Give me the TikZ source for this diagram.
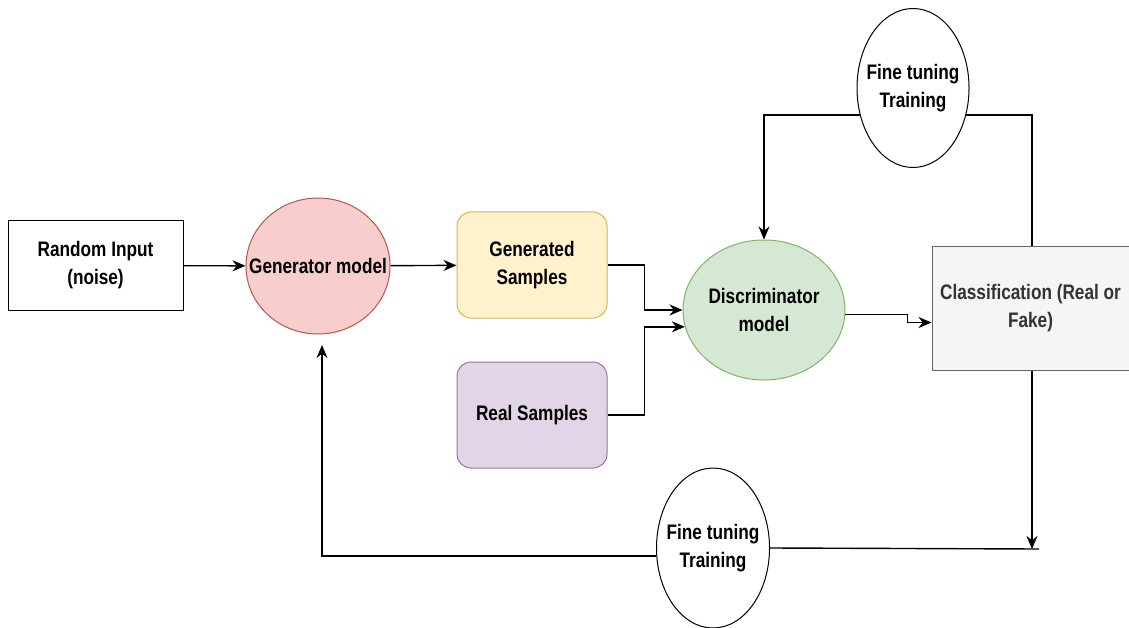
\documentclass[tikz,border=0pt]{standalone}
\usepackage{fontspec}
\setmainfont{Liberation Sans}[FakeStretch=0.82]
\usepackage{tikz}
\usetikzlibrary{shapes.geometric, arrows.meta, positioning, calc}
\definecolor{genred}{HTML}{F8CECC}
\definecolor{genredline}{HTML}{B85450}
\definecolor{sampyellow}{HTML}{FFF2CC}
\definecolor{sampyellowline}{HTML}{D6B656}
\definecolor{realpurple}{HTML}{E1D5E7}
\definecolor{realpurpleline}{HTML}{9673A6}
\definecolor{discgreen}{HTML}{D5E8D4}
\definecolor{discgreenline}{HTML}{82B366}
\definecolor{clsgray}{HTML}{F5F5F5}
\definecolor{clsgrayline}{HTML}{666666}
\definecolor{clstext}{HTML}{333333}

\begin{document}
\begin{tikzpicture}[
  x=1pt, y=-1pt,
  every node/.style={font=\fontsize{21}{28}\selectfont\bfseries, align=center, inner sep=0pt},
  plain/.style={rectangle, draw=black, line width=1pt, fill=white},
  model/.style={ellipse, line width=1pt},
  sample/.style={rectangle, rounded corners=14pt, line width=1pt, minimum width=150pt, minimum height=106pt},
  tuning/.style={ellipse, draw=black, line width=1pt, fill=white, minimum width=112pt, minimum height=159pt,
    label={center:Fine tuning\\Training}},
  arrow/.style={-{Stealth[length=13pt, width=11pt]}, line width=1.4pt},
  link/.style={line width=1.4pt}
]
  \useasboundingbox (0,0) rectangle (1129,628);

  % main row
  \node[plain, minimum width=175pt, minimum height=89pt] (noise) at (95.5,265.5) {Random Input\\(noise)};
  \node[model, draw=genredline, fill=genred, minimum width=144pt, minimum height=136pt,
    label={center:Generator model}] (generator) at (318,266) {};
  \node[sample, draw=sampyellowline, fill=sampyellow] (gensamp) at (532,265) {Generated\\Samples};
  \node[sample, draw=realpurpleline, fill=realpurple] (realsamp) at (532,415) {Real Samples};
  \node[model, draw=discgreenline, fill=discgreen, minimum width=162pt, minimum height=140pt,
    label={center:Discriminator\\model}] (disc) at (764,310) {};
  \node[rectangle, draw=clsgrayline, fill=clsgray, line width=1pt, text=clstext, minimum width=197pt, minimum height=123pt] (cls) at (1030.5,308.5) {Classification (Real or\\Fake)};

  % feedback
  \node[tuning] (tunetop) at (913,88) {};
  \node[tuning, minimum width=113pt, minimum height=160pt] (tunebot) at (713,548) {};
  \coordinate (drop) at (1032,549);
  \coordinate (dropend) at (1039,549);
  \coordinate (genup) at (322,345);

  \draw[arrow] (noise) -- (generator);
  \draw[arrow] (generator) -- (gensamp);
  \draw[arrow] (gensamp.east) -- ++(37,0) |- (disc.west);
  \draw[arrow] (realsamp.east) -- ++(37,0) |- (disc.192);
  \draw[arrow] (disc.-3) -- ++(62,0) |- ($(cls.west)+(0,14)$);

  \draw[link] ($(cls.north)+(1.5,0)$) |- (tunetop.-27);
  \draw[arrow] (tunetop.207) -| (disc.north);

  \draw[arrow] (cls.south -| drop) -- (drop);
  \draw[link] (tunebot.east) -- (dropend);
  \draw[arrow] (tunebot.188) -| (genup);
\end{tikzpicture}
\end{document}
